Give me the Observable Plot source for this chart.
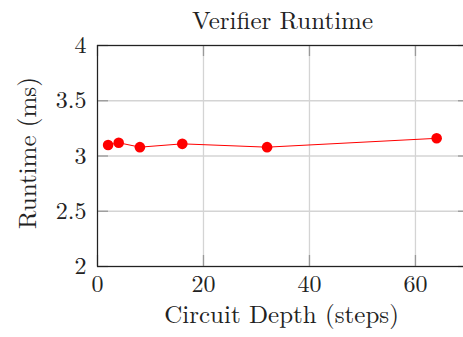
<!DOCTYPE html>
<html>
<head>
<meta charset="utf-8">
<script src="https://cdn.jsdelivr.net/npm/d3@7"></script>
<script src="https://cdn.jsdelivr.net/npm/@observablehq/plot@0.6"></script>
<style>
  html, body { margin: 0; padding: 0; background: #fff; }
  #wrap { width: 463px; height: 337px; overflow: hidden; }
  #wrap svg { max-width: none !important; width: 470px !important; height: 337px !important; }
</style>
</head>
<body>
<div id="wrap"></div>
<script>
const circuitDepth = [2, 4, 8, 16, 32, 64];
const runtimeMs = [3.10, 3.12, 3.08, 3.11, 3.08, 3.16];
const xTicks = [0, 20, 40, 60];
const yTicks = [2, 2.5, 3, 3.5, 4];
const titleText = "Verifier Runtime";
const xLabel = "Circuit Depth (steps)";
const yLabel = "Runtime (ms)";

const data = circuitDepth.map((x, i) => ({x, y: runtimeMs[i]}));

const W = 470, H = 337;
const mL = 97, mR = 1, mT = 45, mB = 71;
const fw = W - mL - mR, fh = H - mT - mB;
const tickLen = 11;
const font = "'Latin Modern Roman', 'CMU Serif', 'Liberation Serif', serif";

const chart = Plot.plot({
  width: W,
  height: H,
  marginLeft: mL,
  marginRight: mR,
  marginTop: mT,
  marginBottom: mB,
  style: {fontFamily: font, fontSize: "23px", background: "#fff", color: "#222"},
  x: {domain: [0, 70.2]},
  y: {domain: [2, 4]},
  marks: [
    Plot.gridX(xTicks, {stroke: "#d4d4d4", strokeOpacity: 1, strokeWidth: 1.3}),
    Plot.gridY(yTicks, {stroke: "#d4d4d4", strokeOpacity: 1, strokeWidth: 1.3}),
    Plot.tickY(yTicks, {y: d => d, insetRight: fw - tickLen, stroke: "#999", strokeWidth: 1.3}),
    Plot.tickY(yTicks, {y: d => d, insetLeft: fw - tickLen, stroke: "#999", strokeWidth: 1.3}),
    Plot.tickX(xTicks, {x: d => d, insetTop: fh - tickLen, stroke: "#999", strokeWidth: 1.3}),
    Plot.tickX(xTicks, {x: d => d, insetBottom: fh - tickLen, stroke: "#999", strokeWidth: 1.3}),
    Plot.frame({stroke: "#222", strokeWidth: 1.2}),
    Plot.axisX(xTicks, {tickSize: 0, tickPadding: 8, fontSize: 24, label: null, tickFormat: d => String(d)}),
    Plot.axisY(yTicks, {tickSize: 0, tickPadding: 11, fontSize: 24, label: null, tickFormat: d => String(d)}),
    Plot.line(data, {x: "x", y: "y", stroke: "#ff0000", strokeWidth: 1}),
    Plot.dot(data, {x: "x", y: "y", r: 5.3, fill: "#ff0000", stroke: "none"}),
    Plot.text([titleText], {frameAnchor: "top", dx: -1, dy: -17, lineAnchor: "bottom", fontSize: 25, fill: "#222"}),
    Plot.text([xLabel], {frameAnchor: "bottom", dx: -2, dy: 56, lineAnchor: "bottom", fontSize: 25, fill: "#222"}),
    Plot.text([yLabel], {frameAnchor: "left", textAnchor: "middle", dx: -70, dy: -3, rotate: -90, lineAnchor: "middle", fontSize: 25, fill: "#222"})
  ]
});
document.getElementById("wrap").appendChild(chart);
</script>
</body>
</html>
